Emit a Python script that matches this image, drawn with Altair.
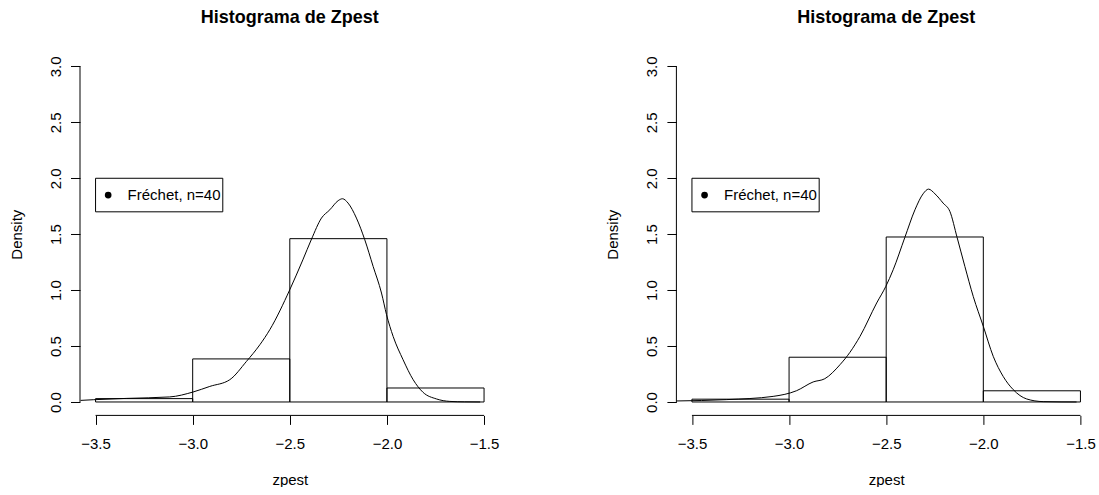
import altair as alt
import pandas as pd

FONT = "Liberation Sans, Arial, Helvetica, sans-serif"

# ---- data ----
breaks = [-3.5, -3.0, -2.5, -2.0, -1.5]
left_density = [0.03, 0.385, 1.46, 0.125]
right_density = [0.025, 0.40, 1.475, 0.10]

left_curve_x = [-3.577, -3.512, -3.34, -3.118, -2.998, -2.912, -2.809, -2.723, -2.654, -2.603,
                -2.5, -2.433, -2.388, -2.337, -2.294, -2.251, -2.229, -2.2, -2.157, -2.114,
                -2.071, -2.028, -2.002, -1.968, -1.917, -1.865, -1.814, -1.745, -1.676, -1.6, -1.52]
left_curve_y = [0.014, 0.02, 0.032, 0.045, 0.089, 0.139, 0.199, 0.363, 0.512, 0.646,
                1.004, 1.27, 1.457, 1.644, 1.718, 1.80, 1.817, 1.778, 1.644, 1.45,
                1.212, 0.974, 0.78, 0.586, 0.378, 0.199, 0.086, 0.027, 0.005, 0.001, 0.0]

right_curve_x = [-3.579, -3.321, -3.082, -2.961, -2.876, -2.816, -2.738, -2.687, -2.635, -2.549,
                 -2.502, -2.464, -2.404, -2.352, -2.31, -2.282, -2.249, -2.207, -2.172, -2.135,
                 -2.095, -2.052, -2.0, -1.949, -1.898, -1.846, -1.777, -1.692, -1.6, -1.52]
right_curve_y = [0.009, 0.021, 0.05, 0.101, 0.179, 0.208, 0.333, 0.443, 0.586, 0.885,
                 1.033, 1.182, 1.471, 1.718, 1.861, 1.903, 1.861, 1.778, 1.703, 1.471,
                 1.212, 0.944, 0.676, 0.408, 0.229, 0.11, 0.027, 0.003, 0.0005, 0.0]

x_ticks = [-3.5, -3.0, -2.5, -2.0, -1.5]
y_ticks = [0.0, 0.5, 1.0, 1.5, 2.0, 2.5, 3.0]
title_text = "Histograma de Zpest"
x_title = "zpest"
y_title = "Density"
legend_label = "Fréchet, n=40"

# legend placement (data coordinates, as in R's legend(x, y))
LEG_X0, LEG_X1, LEG_Y0, LEG_Y1 = -3.5, -2.845, 1.70, 2.0
LEG_PT_X, LEG_TXT_X, LEG_MID_Y = -3.435, -3.335, 1.85

X_DOMAIN = [-3.58, -1.42]
Y_DOMAIN = [-0.12, 3.12]
W, H = 419.6, 362.4

X_AXIS = alt.Axis(values=x_ticks, domain=False, grid=False,
                  labelExpr="replace(format(datum.value, '.1f'), '-', '\u2212')",
                  tickSize=9, tickColor="black", tickWidth=1,
                  labelPadding=12, labelFont=FONT, labelFontSize=15, labelColor="black",
                  labelFlush=False, labelOverlap=False,
                  title=x_title, titleFont=FONT, titleFontSize=15, titleFontWeight="normal",
                  titleColor="black", titleBaseline="alphabetic", titleY=68.8)
Y_AXIS = alt.Axis(values=y_ticks, format=".1f", domain=False, grid=False,
                  tickSize=9.5, tickColor="black", tickWidth=1,
                  labelAngle=270, labelAlign="center", labelBaseline="alphabetic",
                  labelPadding=10, labelFont=FONT, labelFontSize=15, labelColor="black",
                  labelOverlap=False, labelFlush=False,
                  title=y_title, titleFont=FONT, titleFontSize=15, titleFontWeight="normal",
                  titleColor="black", titleAngle=270, titleAlign="center",
                  titleBaseline="alphabetic", titleX=-59, titleY=H / 2)


def X(field):
    return alt.X(field, scale=alt.Scale(domain=X_DOMAIN, nice=False, zero=False), axis=X_AXIS)


def Y(field):
    return alt.Y(field, scale=alt.Scale(domain=Y_DOMAIN, nice=False, zero=False), axis=Y_AXIS)


def panel(dens, cx, cy):
    bars_df = pd.DataFrame({"x0": breaks[:-1], "x1": breaks[1:], "d": dens})
    curve_df = pd.DataFrame({"x": cx, "y": cy})

    bars = alt.Chart(bars_df).mark_rect(fillOpacity=0, stroke="black", strokeWidth=1).encode(
        x=X("x0:Q"), x2="x1:Q", y=Y("d:Q"), y2=alt.datum(0),
    )
    curve = alt.Chart(curve_df).mark_line(color="black", strokeWidth=1, interpolate="monotone").encode(
        x=X("x:Q"), y=Y("y:Q"),
    )
    yline = alt.Chart(pd.DataFrame({"a": [y_ticks[0]], "b": [y_ticks[-1]]})).mark_rule(
        color="black", strokeWidth=1).encode(
        x=alt.value(0), y=Y("a:Q"), y2="b:Q",
    )
    xline = alt.Chart(pd.DataFrame({"a": [x_ticks[0]], "b": [x_ticks[-1]]})).mark_rule(
        color="black", strokeWidth=1).encode(
        x=X("a:Q"), x2="b:Q", y=alt.value(H),
    )
    leg_box = alt.Chart(pd.DataFrame({"x0": [LEG_X0], "x1": [LEG_X1], "y0": [LEG_Y0], "y1": [LEG_Y1]})).mark_rect(
        fill="white", stroke="black", strokeWidth=1).encode(
        x=X("x0:Q"), x2="x1:Q", y=Y("y0:Q"), y2="y1:Q",
    )
    leg_pt = alt.Chart(pd.DataFrame({"x": [LEG_PT_X], "y": [LEG_MID_Y]})).mark_point(
        filled=True, color="black", size=45, opacity=1).encode(
        x=X("x:Q"), y=Y("y:Q"),
    )
    leg_txt = alt.Chart(pd.DataFrame({"x": [LEG_TXT_X], "y": [LEG_MID_Y], "t": [legend_label]})).mark_text(
        font=FONT, fontSize=15, align="left", baseline="middle", color="black").encode(
        x=X("x:Q"), y=Y("y:Q"), text="t:N",
    )
    return alt.layer(bars, curve, yline, xline, leg_box, leg_pt, leg_txt).properties(
        width=W, height=H,
        title=alt.TitleParams(text=title_text, font=FONT, fontSize=18, fontWeight="bold",
                              anchor="middle", frame="group", baseline="alphabetic",
                              offset=12.3, color="black"),
    )


left = panel(left_density, left_curve_x, left_curve_y)
right = panel(right_density, right_curve_x, right_curve_y)

chart = alt.hconcat(left, right, spacing=176.4, bounds="flush").properties(
    padding={"left": 9, "top": 8, "right": 0, "bottom": 0},
    background="white",
).configure_view(strokeWidth=0)

chart.save("out.html", embed_options={"renderer": "svg", "actions": False})
